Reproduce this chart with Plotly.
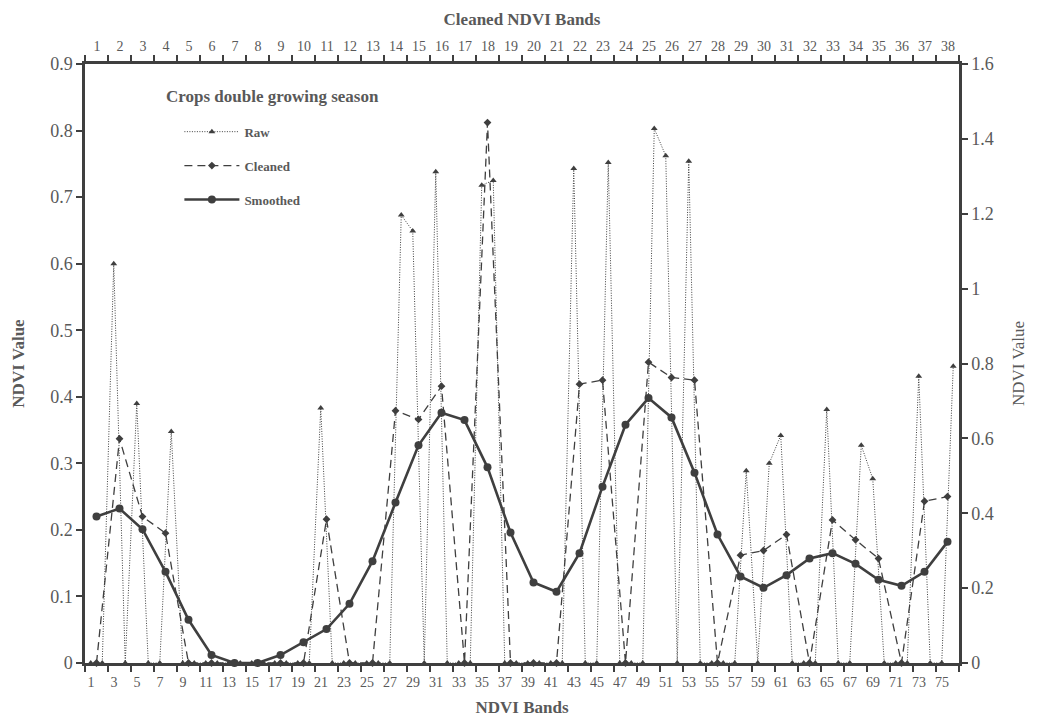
import plotly.graph_objects as go

# ---------------- data ----------------
bands = list(range(1, 77))              # NDVI bands (bottom axis)
cleaned_bands = list(range(1, 39))      # cleaned NDVI bands (top axis)

raw = [0, 0, 0.600, 0, 0.390, 0, 0, 0.348, 0, 0,
       0, 0, 0, 0, 0, 0, 0, 0, 0, 0,
       0.383, 0, 0, 0, 0, 0, 0, 0.673, 0.649, 0,
       0.738, 0, 0, 0, 0.718, 0.725, 0, 0, 0, 0,
       0, 0, 0.743, 0, 0, 0.752, 0, 0, 0, 0.803,
       0.762, 0, 0.754, 0, 0, 0, 0, 0.289, 0, 0.300,
       0.342, 0, 0, 0, 0.381, 0, 0, 0.327, 0.277, 0,
       0, 0, 0.431, 0, 0, 0.446]

cleaned = [0, 0.337, 0.220, 0.195, 0, 0, 0, 0, 0, 0,
           0.216, 0, 0, 0.379, 0.366, 0.416, 0, 0.812, 0, 0,
           0, 0.419, 0.425, 0, 0.452, 0.429, 0.425, 0, 0.162, 0.169,
           0.193, 0, 0.215, 0.185, 0.157, 0, 0.243, 0.250]

smoothed = [0.220, 0.232, 0.201, 0.137, 0.065, 0.012, 0, 0, 0.012, 0.031,
            0.051, 0.089, 0.153, 0.241, 0.327, 0.376, 0.365, 0.294, 0.196, 0.121,
            0.107, 0.165, 0.265, 0.358, 0.398, 0.369, 0.286, 0.193, 0.130, 0.113,
            0.132, 0.157, 0.165, 0.149, 0.125, 0.116, 0.137, 0.182]

bottom_labels = [str(v) for v in range(1, 77, 2)] + [""]
top_labels = [str(v) for v in cleaned_bands] + [""]
left_ticks = [0, 0.1, 0.2, 0.3, 0.4, 0.5, 0.6, 0.7, 0.8, 0.9]
left_labels = ["0", "0.1", "0.2", "0.3", "0.4", "0.5", "0.6", "0.7", "0.8", "0.9"]
right_ticks = [0, 0.2, 0.4, 0.6, 0.8, 1.0, 1.2, 1.4, 1.6]
right_labels = ["0", "0.2", "0.4", "0.6", "0.8", "1", "1.2", "1.4", "1.6"]
legend_title = "Crops double growing season"

# tick marks sit on category boundaries; labels are shifted to the centres
bottom_marks = [0.5 + 2 * k for k in range(39)]
top_marks = [0.5 + k for k in range(39)]

# ---------------- style ----------------
INK = "#3f3f3f"
TXT = "#595959"
FONT = "Liberation Serif"
PLOT_W = 1037 - 85 - 78

fig = go.Figure()

fig.add_trace(go.Scatter(
    x=bands, y=raw, name="Raw", mode="lines+markers",
    line=dict(color=INK, width=1, dash="1px,1.5px"),
    marker=dict(symbol="triangle-up", size=6, color=INK),
    xaxis="x", yaxis="y", cliponaxis=False, legendgroup="raw"))

fig.add_trace(go.Scatter(
    x=cleaned_bands, y=cleaned, name="Cleaned", mode="lines+markers",
    line=dict(color=INK, width=1.3, dash="8px,5px"),
    marker=dict(symbol="diamond", size=6, color=INK),
    xaxis="x2", yaxis="y", cliponaxis=False, legendgroup="cleaned"))

fig.add_trace(go.Scatter(
    x=cleaned_bands, y=smoothed, name="Smoothed", mode="lines+markers",
    line=dict(color=INK, width=2.6),
    marker=dict(symbol="circle", size=8, color=INK),
    xaxis="x2", yaxis="y", cliponaxis=False, legendgroup="smoothed"))

# empty helper trace so the secondary y axis is drawn
fig.add_trace(go.Scatter(x=[None], y=[None], xaxis="x", yaxis="y2",
                         showlegend=False, hoverinfo="skip"))

tickfont_small = dict(family=FONT, size=14, color=TXT)
tickfont_big = dict(family=FONT, size=18, color=TXT)
titlefont = dict(family=FONT, size=17, color=TXT)

fig.add_annotation(
    text=f"<b>{legend_title}</b>", xref="paper", yref="paper",
    x=0.09, y=0.945, xanchor="left", yanchor="middle", showarrow=False,
    font=dict(family=FONT, size=17, color=TXT))

fig.update_layout(
    width=1037, height=725,
    margin=dict(l=85, r=78, t=64, b=62),
    paper_bgcolor="white", plot_bgcolor="white",
    font=dict(family=FONT, color=TXT),
    showlegend=True,
    legend=dict(
        x=0.108, y=0.912, xanchor="left", yanchor="top",
        bgcolor="rgba(0,0,0,0)",
        font=dict(family=FONT, size=13, color=TXT, weight="bold"),
        tracegroupgap=14, itemwidth=55,
    ),
    xaxis=dict(
        range=[0.5, 76.5], tickmode="array", tickvals=bottom_marks,
        ticktext=bottom_labels, ticks="outside", ticklen=6, tickwidth=1.5,
        tickcolor=INK, ticklabelshift=round(PLOT_W / 76 / 2),
        tickfont=tickfont_small, showgrid=False, zeroline=False,
        showline=True, linecolor=INK, linewidth=2.5, ticklabelstandoff=-2,
        title=dict(text="<b>NDVI Bands</b>", font=titlefont, standoff=13),
        anchor="y",
    ),
    xaxis2=dict(
        range=[0.5, 38.5], tickmode="array", tickvals=top_marks,
        ticktext=top_labels, ticks="outside", ticklen=6, tickwidth=1.5,
        tickcolor=INK, ticklabelshift=round(PLOT_W / 38 / 2),
        tickfont=tickfont_small, showgrid=False, zeroline=False,
        showline=True, linecolor=INK, linewidth=2.5, ticklabelstandoff=-1,
        side="top", overlaying="x", anchor="y",
        title=dict(text="<b>Cleaned NDVI Bands</b>", font=titlefont, standoff=9),
    ),
    yaxis=dict(
        range=[0, 0.9], tickmode="array", tickvals=left_ticks, ticktext=left_labels,
        ticks="outside", ticklen=6, tickwidth=1.5, tickcolor=INK,
        tickfont=tickfont_big, showgrid=False, zeroline=False,
        showline=True, linecolor=INK, linewidth=2.5,
        title=dict(text="<b>NDVI Value</b>", font=titlefont, standoff=22),
        anchor="x",
    ),
    yaxis2=dict(
        range=[0, 1.6], tickmode="array", tickvals=right_ticks, ticktext=right_labels,
        ticks="outside", ticklen=6, tickwidth=1.5, tickcolor=INK,
        tickfont=tickfont_big, showgrid=False, zeroline=False,
        showline=True, linecolor=INK, linewidth=2.5,
        side="right", overlaying="y", anchor="x",
        title=dict(text="NDVI Value", font=titlefont, standoff=20),
    ),
)

fig.write_html("out.html")
